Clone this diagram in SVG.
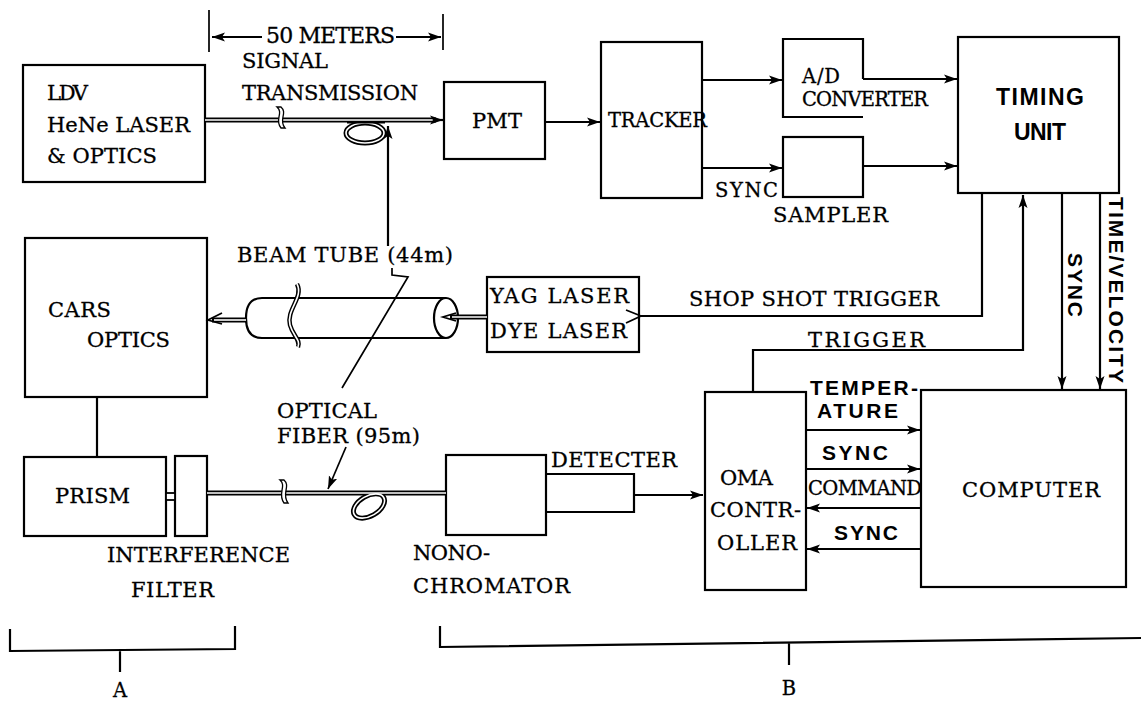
<svg xmlns="http://www.w3.org/2000/svg" width="1141" height="704" viewBox="0 0 1141 704">
<defs>
<style>
.t{font-family:"DejaVu Serif","Liberation Serif",serif;font-size:21px;fill:#000;stroke:#000;stroke-width:0.3}
.s{font-size:19.5px}
.b{font-family:"Liberation Sans",Arial,sans-serif;font-weight:bold;font-size:21px;fill:#000}
.big{font-size:23px}
.box{fill:none;stroke:#000;stroke-width:2.2}
.ln{fill:none;stroke:#000;stroke-width:2.2}
.thin{fill:none;stroke:#000;stroke-width:1.7}
.fo{fill:none;stroke:#000;stroke-width:5}
.fi{fill:none;stroke:#fff;stroke-width:1.6}
</style>
<marker id="arr" markerUnits="userSpaceOnUse" markerWidth="14" markerHeight="10" refX="13" refY="5" orient="auto">
<path d="M0,0.5 L13,5 L0,9.5 L3,5 z" fill="#000"/>
</marker>
<marker id="opn" markerUnits="userSpaceOnUse" markerWidth="18" markerHeight="16" refX="1" refY="8" orient="auto">
<path d="M16,1 L1,8 L16,14" fill="none" stroke="#000" stroke-width="1.8"/>
</marker>
</defs>
<rect width="1141" height="704" fill="#fff"/>

<g id="dimension">
<path class="thin" d="M209,10 L209,52 M443,14 L443,50"/>
<path class="ln" d="M262,37 L212,37" marker-end="url(#arr)"/>
<path class="ln" d="M396,37 L441,37" marker-end="url(#arr)"/>
<text class="t" x="266" y="43" textLength="129" style="font-size:22px">50 METERS</text>
</g>

<g id="ldv">
<rect class="box" x="23" y="65" width="182" height="117"/>
<text class="t" x="47" y="100" textLength="41">LDV</text>
<text class="t" x="47" y="132" textLength="143">HeNe LASER</text>
<text class="t" x="47" y="163" textLength="110">&amp; OPTICS</text>
</g>

<g id="signal-label">
<text class="t" x="242" y="68" textLength="86">SIGNAL</text>
<text class="t" x="242" y="100" textLength="176">TRANSMISSION</text>
</g>

<g id="pmt">
<rect class="box" x="444" y="82" width="101" height="77"/>
<text class="t" x="472" y="128" textLength="50">PMT</text>
</g>

<g id="tracker">
<rect class="box" x="601" y="42" width="101" height="156"/>
<text class="t s" x="608" y="127" textLength="99">TRACKER</text>
</g>

<g id="ad">
<path class="box" d="M863,79 L863,39 L783,39 L783,117 L863,117"/>
<text class="t s" x="802" y="83" textLength="38">A/D</text>
<text class="t s" x="802" y="106" textLength="126">CONVERTER</text>
</g>

<g id="sampler">
<rect class="box" x="783" y="137" width="80" height="60"/>
<text class="t s" x="715" y="197" textLength="63">SYNC</text>
<text class="t" x="773" y="222" textLength="115">SAMPLER</text>
</g>

<g id="timing">
<rect class="box" x="958" y="37" width="161" height="156"/>
<text class="b big" x="996" y="105" textLength="88">TIMING</text>
<text class="b big" x="1014" y="140" textLength="52">UNIT</text>
</g>

<g id="cars">
<rect class="box" x="25" y="238" width="182" height="159"/>
<text class="t" x="48" y="317" textLength="63">CARS</text>
<text class="t" x="87" y="347" textLength="83">OPTICS</text>
</g>

<g id="beam-tube">
<path class="ln" d="M446,298 L262,298 C250,298 246,306 246,318 C246,330 250,338 262,338 L446,338"/>
<ellipse class="ln" cx="446" cy="318" rx="12" ry="20" fill="#fff"/>
<path class="fo" style="stroke-width:4.5" d="M297,284 C304,297 286,310 290,325 C293,336 301,340 298,347"/>
<path class="fi" d="M297,284 C304,297 286,310 290,325 C293,336 301,340 298,347"/>
<text class="t" x="237" y="262" textLength="216">BEAM TUBE (44m)</text>
</g>

<g id="yag">
<rect class="box" x="487" y="277" width="152" height="75"/>
<text class="t" x="490" y="303" textLength="139">YAG LASER</text>
<text class="t" x="490" y="338" textLength="137">DYE LASER</text>
</g>

<g id="prism">
<rect class="box" x="24" y="457" width="142" height="79"/>
<text class="t" x="55" y="503" textLength="75">PRISM</text>
</g>

<g id="filter">
<rect class="box" x="175" y="456" width="32" height="80"/>
<text class="t" x="107" y="562" textLength="183">INTERFERENCE</text>
<text class="t" x="131" y="597" textLength="83">FILTER</text>
</g>

<g id="monochromator">
<rect class="box" x="446" y="455" width="100" height="80"/>
<text class="t" x="413" y="560" textLength="77">NONO-</text>
<text class="t" x="413" y="593" textLength="157">CHROMATOR</text>
</g>

<g id="detecter">
<path class="box" d="M546,474 L634,474 L634,512 L546,512"/>
<text class="t" x="551" y="467" textLength="126">DETECTER</text>
</g>

<g id="oma">
<rect class="box" x="705" y="392" width="101" height="198"/>
<text class="t" x="720" y="485" textLength="53">OMA</text>
<text class="t" x="710" y="517" textLength="91">CONTR-</text>
<text class="t" x="717" y="550" textLength="80">OLLER</text>
</g>

<g id="computer">
<rect class="box" x="921" y="390" width="205" height="197"/>
<text class="t" x="962" y="497" textLength="138">COMPUTER</text>
</g>

<g id="fiber-labels">
<text class="t" x="277" y="418" textLength="100">OPTICAL</text>
<text class="t" x="277" y="443" textLength="143">FIBER (95m)</text>
</g>

<g id="connectors">
<path class="fo" d="M205,120 L436,120"/>
<ellipse class="fo" cx="365" cy="133" rx="19" ry="10"/>
<path class="fi" d="M205,120 L436,120"/>
<ellipse class="fi" cx="365" cy="133" rx="19" ry="10"/>
<path style="stroke:#000;stroke-width:2" d="M347,122.5 L385,122.5"/>
<path d="M277,107 C284,113 274,120 281,128 L285,128 C278,120 288,113 281,107 z" fill="#fff" stroke="#000" stroke-width="1.3"/>
<path class="ln" d="M436,120 L443,120" marker-end="url(#arr)"/>
<path class="ln" d="M388,246 L388,126" marker-end="url(#arr)"/>

<path class="ln" d="M545,122 L600,122" marker-end="url(#arr)"/>
<path class="ln" d="M702,80 L782,80" marker-end="url(#arr)"/>
<path class="ln" d="M702,168 L782,168" marker-end="url(#arr)"/>
<path class="ln" d="M863,79 L957,79" marker-end="url(#arr)"/>
<path class="ln" d="M863,166 L957,166" marker-end="url(#arr)"/>

<path class="ln" d="M982,193 L982,316 L641,316" marker-end="url(#opn)"/>
<path class="ln" d="M753,392 L753,350 L1023,350 L1023,195" marker-end="url(#arr)"/>
<path class="ln" d="M1062,193 L1062,389" marker-end="url(#arr)"/>
<path class="ln" d="M1100,193 L1100,389" marker-end="url(#arr)"/>
<text class="t" x="689" y="306" textLength="250">SHOP SHOT TRIGGER</text>
<text class="t" x="808" y="347" textLength="117">TRIGGER</text>
<text class="b" transform="translate(1068,253) rotate(90)" x="0" y="0" textLength="64">SYNC</text>
<text class="b" transform="translate(1109,197) rotate(90)" x="0" y="0" textLength="186">TIME/VELOCITY</text>

<path class="fo" d="M487,317 L450,317"/>
<path class="fi" d="M487,317 L452,317"/>
<path d="M456,313 L443,317 L456,321" fill="none" stroke="#000" stroke-width="1.8"/>
<path class="fo" d="M246,320 L212,320"/>
<path class="fi" d="M246,320 L214,320"/>
<path d="M222,313 L208,320 L222,324" fill="none" stroke="#000" stroke-width="1.8"/>

<path class="thin" d="M392,268 L392,275 L408,277 L342,388"/>
<path class="thin" d="M346,447 L328,489" marker-end="url(#arr)"/>

<path class="ln" d="M97,397 L97,457"/>
<rect x="166" y="493" width="9" height="7" fill="#fff" stroke="#000" stroke-width="1.8"/>

<path class="fo" d="M207,493 L446,493"/>
<ellipse class="fo" cx="369" cy="506" rx="17" ry="10" transform="rotate(-30 369 506)"/>
<path class="fi" d="M207,493 L446,493"/>
<ellipse class="fi" cx="369" cy="506" rx="17" ry="10" transform="rotate(-30 369 506)"/>
<path d="M280,480 C287,486 277,494 284,503 L288,503 C281,494 291,486 284,480 z" fill="#fff" stroke="#000" stroke-width="1.3"/>

<path class="ln" d="M634,495 L703,495" marker-end="url(#arr)"/>
<path class="ln" d="M806,430 L920,430" marker-end="url(#arr)"/>
<path class="ln" d="M806,469 L920,469" marker-end="url(#arr)"/>
<path class="ln" d="M921,508 L807,508" marker-end="url(#arr)"/>
<path class="ln" d="M921,549 L807,549" marker-end="url(#arr)"/>
<text class="b" x="810" y="395" textLength="108">TEMPER-</text>
<text class="b" x="817" y="418" textLength="81">ATURE</text>
<text class="b" x="822" y="460" textLength="66">SYNC</text>
<text class="t s" x="808" y="495" textLength="114">COMMAND</text>
<text class="b" x="834" y="540" textLength="64">SYNC</text>
</g>

<g id="brackets">
<path class="ln" d="M10,629 L10,651 L235,649 L235,626 M120,650 L120,672"/>
<text class="t s" x="120" y="697" text-anchor="middle">A</text>
<path class="ln" d="M440,626 L440,647 L1141,638 M789,643 L789,665"/>
<text class="t s" x="789" y="695" text-anchor="middle">B</text>
</g>
</svg>
